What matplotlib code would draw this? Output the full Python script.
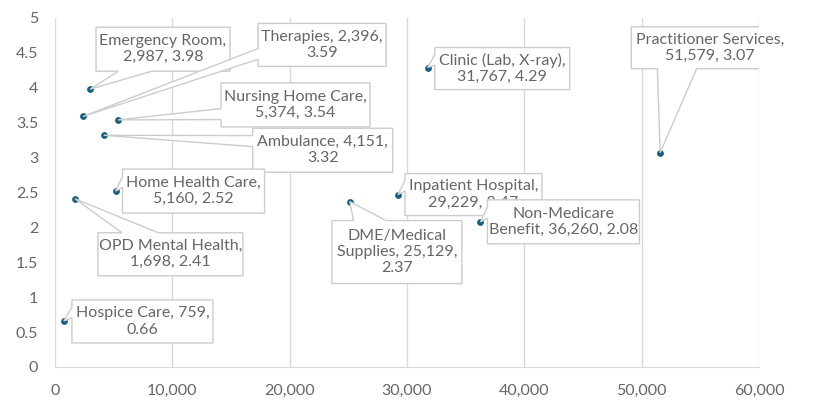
import matplotlib
matplotlib.use("Agg")
import matplotlib.pyplot as plt
from matplotlib.patches import Polygon
from matplotlib.transforms import IdentityTransform
from matplotlib.ticker import FuncFormatter

# ---- data ----
names = ["Emergency Room", "Therapies", "Nursing Home Care", "Ambulance",
         "Home Health Care", "OPD Mental Health", "Hospice Care",
         "Clinic (Lab, X-ray)", "Practitioner Services", "Inpatient Hospital",
         "Non-Medicare Benefit", "DME/Medical Supplies"]
x_vals = [2987, 2396, 5374, 4151, 5160, 1698, 759, 31767, 51579, 29229, 36260, 25129]
y_vals = [3.98, 3.59, 3.54, 3.32, 2.52, 2.41, 0.66, 4.29, 3.07, 2.47, 2.08, 2.37]
labels = [
    "Emergency Room,\n2,987, 3.98",
    "Therapies, 2,396,\n3.59",
    "Nursing Home Care,\n5,374, 3.54",
    "Ambulance, 4,151,\n3.32",
    "Home Health Care,\n5,160, 2.52",
    "OPD Mental Health,\n1,698, 2.41",
    "Hospice Care, 759,\n0.66",
    "Clinic (Lab, X-ray),\n31,767, 4.29",
    "Practitioner Services,\n51,579, 3.07",
    "Inpatient Hospital,\n29,229, 2.47",
    "Non-Medicare\nBenefit, 36,260, 2.08",
    "DME/Medical\nSupplies, 25,129,\n2.37",
]
x_ticks = [0, 10000, 20000, 30000, 40000, 50000, 60000]
y_ticks = [0, 0.5, 1, 1.5, 2, 2.5, 3, 3.5, 4, 4.5, 5]

# ---- layout (pixel offsets of label box centre from point, box size) ----
box_offsets = [(73, 40), (239, 71.5), (177.5, 15), (219, -15), (78, 0), (95.5, -55.5),
               (78.5, -0.5), (74.5, -1), (49.5, 105), (75.5, 0), (83, 0), (47, -50.5)]
box_sizes = [(134, 44), (128, 43), (149, 44), (140, 44), (142, 44), (145, 43),
             (141, 43), (135, 42), (157, 42), (137, 42), (152, 44), (130, 63)]

TEXT = "#666666"
GRID = "#d9d9d9"
EDGE = "#cccccc"
MARK = "#156082"
FONT = ["Lato", "DejaVu Sans"]
FS = 11.5

W, H = 818, 413
fig = plt.figure(figsize=(W / 100, H / 100), dpi=100)
ax = fig.add_axes([55 / W, 1 - 367 / H, (759 - 55) / W, (367 - 18) / H])
ax.set_xlim(0, 60000)
ax.set_ylim(0, 5)
ax.set_xticks(x_ticks)
ax.set_yticks(y_ticks)
ax.xaxis.set_major_formatter(FuncFormatter(lambda v, p: f"{int(v):,}"))
ax.yaxis.set_major_formatter(FuncFormatter(lambda v, p: f"{v:g}"))
ax.tick_params(length=0, labelcolor=TEXT, labelsize=FS)
ax.tick_params(axis="x", pad=12)
ax.tick_params(axis="y", pad=12)
for lab in ax.get_xticklabels() + ax.get_yticklabels():
    lab.set_family(FONT)
for s in ["top", "right", "left"]:
    ax.spines[s].set_visible(False)
ax.spines["bottom"].set_color(GRID)
ax.grid(axis="x", color=GRID, linewidth=1)
ax.set_axisbelow(True)

ax.scatter(x_vals, y_vals, s=24, color=MARK, zorder=5, linewidths=0)

trans = ax.transData
for i, (xv, yv) in enumerate(zip(x_vals, y_vals)):
    px, py = trans.transform((xv, yv))
    ox, oy = box_offsets[i]
    bw, bh = box_sizes[i]
    cx, cy = px + ox, py + oy
    x0, x1 = cx - bw / 2, cx + bw / 2
    y0, y1 = cy - bh / 2, cy + bh / 2
    dx, dy = px - cx, py - cy
    gx = (7, 10) if dx > 0 else (2, 5)
    gy = (7, 10) if dy < 0 else (2, 5)  # measured from top
    xa, xb = x0 + bw * gx[0] / 12, x0 + bw * gx[1] / 12
    ya, yb = y1 - bh * gy[0] / 12, y1 - bh * gy[1] / 12
    tip = (px, py)
    top = [(x0, y1), (x1, y1)]
    right = [(x1, y1), (x1, y0)]
    bottom = [(x1, y0), (x0, y0)]
    left = [(x0, y0), (x0, y1)]
    if abs(dy) / bh > abs(dx) / bw:
        if dy > 0:
            top = [(x0, y1), (xa, y1), tip, (xb, y1), (x1, y1)]
        else:
            bottom = [(x1, y0), (xb, y0), tip, (xa, y0), (x0, y0)]
    else:
        if dx > 0:
            right = [(x1, y1), (x1, ya), tip, (x1, yb), (x1, y0)]
        else:
            left = [(x0, y0), (x0, yb), tip, (x0, ya), (x0, y1)]
    verts = top + right[1:] + bottom[1:] + left[1:-1]
    poly = Polygon(verts, closed=True, facecolor="white", edgecolor=EDGE,
                   linewidth=1, transform=IdentityTransform(), zorder=10 + 2 * i)
    ax.add_artist(poly)
    ax.text(cx, cy, labels[i], transform=IdentityTransform(), ha="center", va="center",
            multialignment="center", color=TEXT, fontsize=FS, family=FONT,
            linespacing=1.2, zorder=11 + 2 * i)

fig.savefig("out.png", dpi=100)
